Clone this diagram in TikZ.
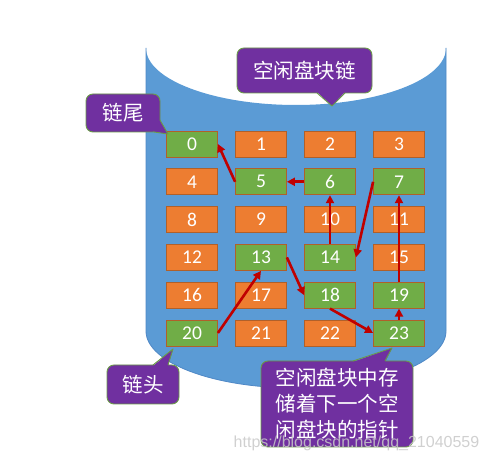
\documentclass[tikz,border=0pt]{standalone}
\usepackage{fontspec}
\setmainfont{Carlito}
\newfontfamily\cjk{Noto Sans CJK SC}
\newfontfamily\wmfont{Liberation Sans}
\usetikzlibrary{arrows.meta}
\definecolor{cylblue}{HTML}{5B9BD5}
\definecolor{cylline}{HTML}{4F88C6}
\definecolor{boxorange}{HTML}{ED7D31}
\definecolor{boxgreen}{HTML}{70AD47}
\definecolor{boxline}{HTML}{B0602A}
\definecolor{cpurple}{HTML}{7030A0}
\definecolor{cgreen}{HTML}{6A9A48}
\definecolor{arrred}{HTML}{C00000}
\definecolor{wmgray}{HTML}{C8C8C8}
\begin{document}
\begin{tikzpicture}[x=1pt,y=1pt,
  blk/.style={draw=boxline, line width=0.8pt, minimum width=51pt, minimum height=26pt, inner sep=0pt, text=white, font=\fontsize{19.5}{19.5}\selectfont},
  freeblk/.style={blk, fill=boxorange},
  usedblk/.style={blk, fill=boxgreen},
  callbox/.style={fill=cpurple, draw=cgreen, line width=0.9pt, rounded corners=7pt, text=white, inner sep=0pt, font=\cjk\fontsize{20.5}{26}\selectfont, align=center},
  ptrfill/.style={fill=cpurple},
  ptrline/.style={draw=cgreen, line width=0.9pt, line join=round},
  link/.style={draw=arrred, line width=2.6pt, -{Triangle[length=8pt,width=8pt]}}
]
\useasboundingbox (0,0) rectangle (488,461);
% cylinder
\fill[cylblue] (146,413) -- (146,130) arc[start angle=180, end angle=360, x radius=150, y radius=57]
  -- (446,413) arc[start angle=0, end angle=-180, x radius=150, y radius=57] -- cycle;
\draw[cylline, line width=0.8pt] (146,413) -- (146,130) arc[start angle=180, end angle=360, x radius=150, y radius=57] -- (446,413);
% blocks
\foreach \n/\s [count=\k from 0] in {0/usedblk,1/freeblk,2/freeblk,3/freeblk,
  4/freeblk,5/usedblk,6/usedblk,7/usedblk,
  8/freeblk,9/freeblk,10/freeblk,11/freeblk,
  12/freeblk,13/usedblk,14/usedblk,15/freeblk,
  16/freeblk,17/freeblk,18/usedblk,19/usedblk,
  20/usedblk,21/freeblk,22/freeblk,23/usedblk}{
  \pgfmathtruncatemacro\c{mod(\k,4)}
  \pgfmathtruncatemacro\r{div(\k,4)}
  \node[\s] (b\n) at ({192+69*\c},{317-37.8*\r}) {\n};
}
% links
\draw[link] (b5.west) -- (b0.east);
\draw[link] (b6.west) -- (b5.east);
\draw[link] (b14.north) -- (b6.south);
\draw[link] (b7.west) -- (b14.east);
\draw[link] (b13.east) -- (b18.west);
\draw[link] (b20.east) -- (b13.south);
\draw[link] (b18.south) -- (b23.west);
\draw[link] (b23.north) -- (b19.south);
\draw[link] (b19.north) -- (b7.south);
% callout: chain title
\node[callbox, minimum width=135pt, minimum height=45pt] (title) at (304.5,390.5) {空闲盘块链};
\fill[ptrfill] (317,369) -- (332,355) -- (345,369) -- cycle;
\draw[ptrline] (317,368) -- (332,355) -- (345,368);
% callout: tail
\node[callbox, minimum width=74pt, minimum height=38pt] (tail) at (123,348) {链尾};
\fill[ptrfill] (159.6,341) -- (168,327) -- (154,329.4) -- cycle;
\draw[ptrline] (160,341) -- (168,327) -- (154,329);
% callout: head
\node[callbox, minimum width=72pt, minimum height=39pt] (head) at (143,76.5) {链头};
\fill[ptrfill] (153,95) -- (173,112) -- (168,95) -- cycle;
\draw[ptrline] (153,96) -- (173,112) -- (168,96);
% callout: note
\node[callbox, minimum width=152pt, minimum height=86pt] (note) at (337,57) {空闲盘块中存\\储着下一个空\\闲盘块的指针};
\fill[ptrfill] (353,99) -- (392,113) -- (385,99) -- cycle;
\draw[ptrline] (353,100) -- (392,113) -- (385,100);
% watermark
\node[font=\wmfont\fontsize{16}{16}\selectfont, text=wmgray, opacity=0.85, inner sep=0pt] (wm) at (356.5,18) {https://blog.csdn.net/qq\_21040559};
\end{tikzpicture}
\end{document}
